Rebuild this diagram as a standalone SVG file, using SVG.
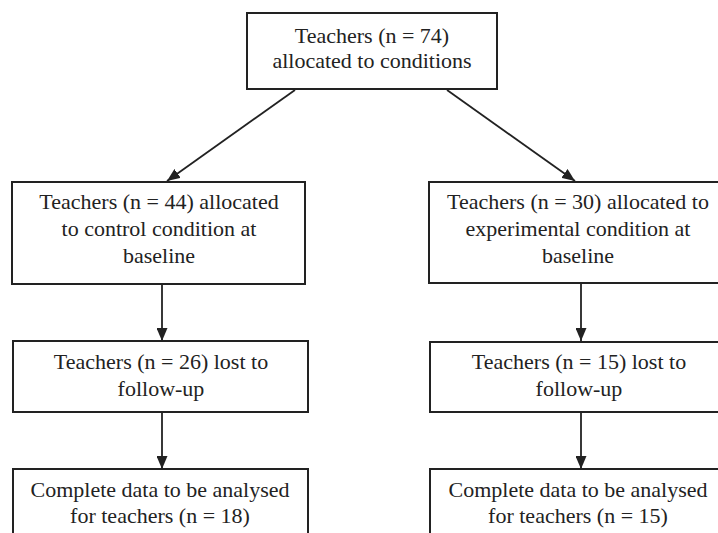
<svg xmlns="http://www.w3.org/2000/svg" width="718" height="533" viewBox="0 0 718 533">
<defs>
<style>
.box{fill:#fff;stroke:#222;stroke-width:2}
.t{font-family:"Liberation Serif","Times New Roman",serif;font-size:22px;fill:#222;text-anchor:middle}
.c{stroke:#222;stroke-width:1.8;fill:none;marker-end:url(#ah)}
</style>
<marker id="ah" markerUnits="userSpaceOnUse" markerWidth="13" markerHeight="11" refX="13" refY="5.5" orient="auto" viewBox="0 0 13 11">
<path d="M0,0 L13,5.5 L0,11 z" fill="#222"/>
</marker>
</defs>
<rect width="718" height="533" fill="#fff"/>
<g id="connectors">
<line class="c" x1="295" y1="90" x2="167" y2="181"/>
<line class="c" x1="447" y1="90" x2="575" y2="181"/>
<line class="c" x1="162" y1="284" x2="162" y2="341"/>
<line class="c" x1="581" y1="284" x2="581" y2="341"/>
<line class="c" x1="162" y1="412" x2="162" y2="469"/>
<line class="c" x1="581" y1="412" x2="581" y2="469"/>
</g>
<g id="n0">
<rect class="box" x="247" y="13" width="250" height="76"/>
<text class="t" x="372" y="43">Teachers (n = 74)</text>
<text class="t" x="372" y="68">allocated to conditions</text>
</g>
<g id="n1">
<rect class="box" x="12" y="182" width="293" height="102"/>
<text class="t" x="159" y="209">Teachers (n = 44) allocated</text>
<text class="t" x="159" y="236">to control condition at</text>
<text class="t" x="159" y="263">baseline</text>
</g>
<g id="n2">
<rect class="box" x="429" y="182" width="297" height="101"/>
<text class="t" x="578" y="209">Teachers (n = 30) allocated to</text>
<text class="t" x="578" y="236">experimental condition at</text>
<text class="t" x="578" y="263">baseline</text>
</g>
<g id="n3">
<rect class="box" x="13" y="341" width="295" height="71"/>
<text class="t" x="161" y="369">Teachers (n = 26) lost to</text>
<text class="t" x="161" y="396">follow-up</text>
</g>
<g id="n4">
<rect class="box" x="430" y="342" width="296" height="70"/>
<text class="t" x="579" y="369">Teachers (n = 15) lost to</text>
<text class="t" x="579" y="396">follow-up</text>
</g>
<g id="n5">
<rect class="box" x="13" y="469" width="295" height="80"/>
<text class="t" x="160" y="497">Complete data to be analysed</text>
<text class="t" x="160" y="523">for teachers (n = 18)</text>
</g>
<g id="n6">
<rect class="box" x="430" y="469" width="296" height="80"/>
<text class="t" x="578" y="497">Complete data to be analysed</text>
<text class="t" x="578" y="523">for teachers (n = 15)</text>
</g>
</svg>
